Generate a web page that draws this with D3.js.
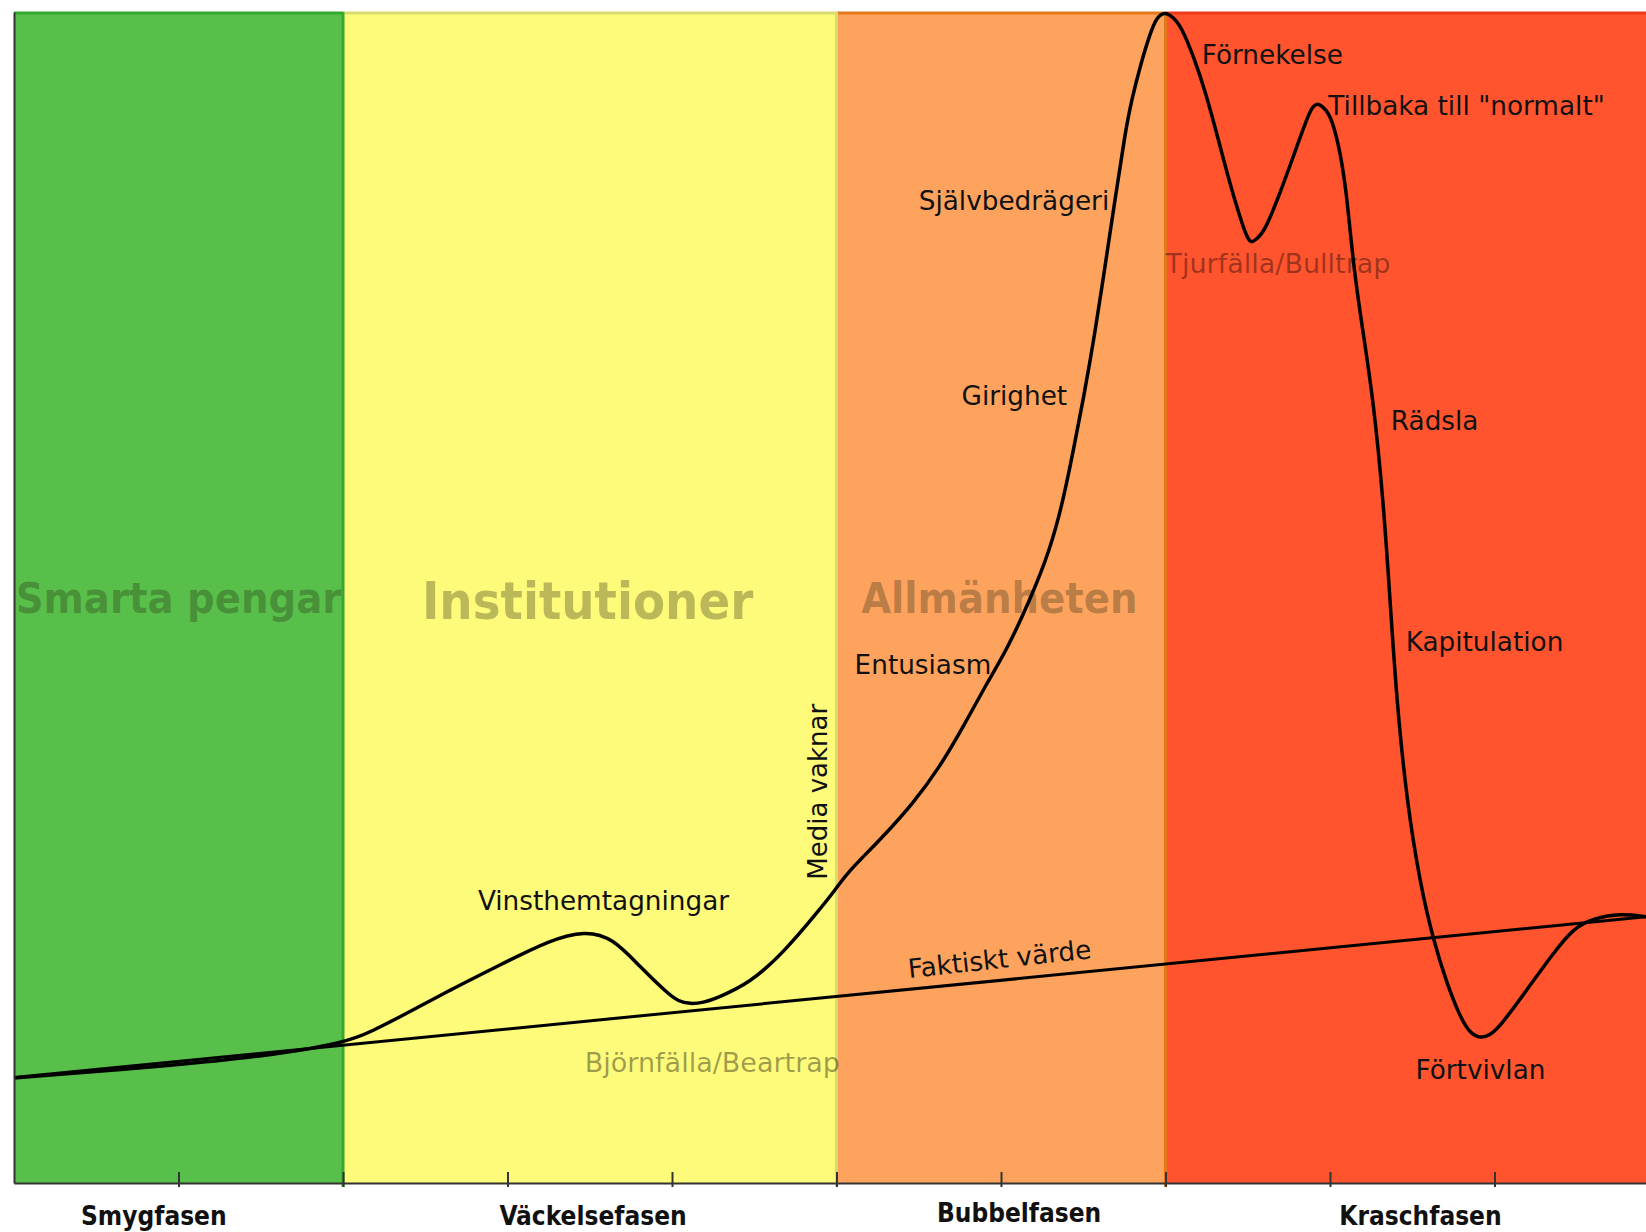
<!DOCTYPE html>
<html>
<head>
<meta charset="utf-8">
<script src="https://cdn.jsdelivr.net/npm/d3@7"></script>
<style>
  html, body { margin: 0; padding: 0; background: #fff; }
  #chart { width: 1646px; height: 1232px; }
</style>
</head>
<body>
<div id="chart"></div>
<script>
// phases along the bottom (x in time units 0..10)
const phaseNames = ["Smygfasen", "Väckelsefasen", "Bubbelfasen", "Kraschfasen"];
const phaseStart = [0, 2, 5, 7];
const phaseEnd = [2, 5, 7, 10];
const phaseLabelX = [0.85, 3.52, 6.11, 8.55];
const xTicks = [1, 2, 3, 4, 5, 6, 7, 8, 9];

// who is buying in each phase
const groupNames = ["Smarta pengar", "Institutioner", "Allmänheten"];
const groupX = [0.01, 2.48, 5.15];
const groupY = [48.7, 48.2, 48.7];

// price curve (x = time, y = price index 0..100)
const priceX = [0, 0.999, 1.5, 2.018, 2.18, 2.347, 2.65, 2.954, 3.258, 3.471, 3.641, 3.805, 3.97, 4.04, 4.109, 4.19,
  4.274, 4.474, 4.675, 4.881, 5.003, 5.062, 5.264, 5.467, 5.629, 5.771, 5.913, 6.035, 6.176, 6.298, 6.379, 6.44, 6.5,
  6.571, 6.632, 6.693, 6.754, 6.794, 6.845, 6.906, 6.948, 6.996, 7.046, 7.096, 7.171, 7.246, 7.322, 7.396, 7.471,
  7.497, 7.522, 7.55, 7.597, 7.697, 7.798, 7.872, 7.898, 7.923, 7.95, 7.998, 8.048, 8.098, 8.142, 8.202, 8.263,
  8.324, 8.365, 8.405, 8.466, 8.547, 8.628, 8.71, 8.79, 8.85, 8.912, 8.97, 9.033, 9.196, 9.357, 9.479, 9.601,
  9.763, 9.921];
const priceY = [8.97, 10.08, 10.8, 11.96, 13.0, 14.18, 16.48, 18.62, 20.75, 21.55, 20.92, 18.47, 16.23, 15.5, 15.29,
  15.4, 15.8, 17.08, 19.64, 23.06, 25.22, 26.45, 29.29, 32.43, 35.55, 38.97, 42.67, 45.52, 49.79, 54.06, 58.33, 62.6,
  66.87, 72.56, 78.25, 83.95, 89.64, 92.49, 95.33, 98.18, 99.57, 100.03, 99.57, 98.75, 96.19, 93.06, 89.07, 85.08,
  81.67, 80.75, 80.25, 80.6, 81.1, 84.52, 88.5, 91.35, 91.95, 92.2, 92.0, 91.35, 89.07, 85.08, 78.25, 72.56, 66.87,
  58.33, 49.79, 41.25, 32.71, 25.59, 20.75, 17.05, 14.2, 12.8, 12.36, 12.6, 13.35, 16.48, 19.62, 21.75, 22.6,
  23.03, 22.74];

// fundamental value line
const valueX = [0, 10];
const valueY = [9.0, 22.85];

// sentiment notes along the curve
const noteText = ["Förnekelse", "Tillbaka till \"normalt\"", "Självbedrägeri", "Girighet", "Entusiasm",
  "Rädsla", "Kapitulation", "Förtvivlan", "Vinsthemtagningar"];
const noteX = [7.22, 7.99, 5.5, 5.76, 5.11, 8.37, 8.46, 8.52, 2.82];
const noteY = [95.6, 91.2, 83.1, 66.4, 43.5, 64.3, 45.4, 8.9, 23.3];

// traps (faded text)
const trapText = ["Björnfälla/Beartrap", "Tjurfälla/Bulltrap"];
const trapX = [3.47, 7.0];
const trapY = [9.5, 77.7];

const W = 1646, H = 1232;
const margin = { top: 12, left: 14, bottom: 49 };
const colors = {
  fill: ["#58c04a", "#fefb7a", "#fea35d", "#ff542e"],
  edge: ["#36a82e", "#d9dc6c", "#e6781c", "#ee3a18"]
};
const noteFont = "'DejaVu Sans', sans-serif";
const boldFont = "'DejaVu Sans Condensed', 'DejaVu Sans', sans-serif";

const svg = d3.select("#chart").append("svg")
  .attr("width", W)
  .attr("height", H);

const x = d3.scaleLinear().domain([0, 10]).range([margin.left, 1659]);
const y = d3.scaleLinear().domain([0, 100]).range([H - margin.bottom, margin.top]);

const plot = svg.append("g");

// phase backgrounds
plot.selectAll("rect.phase")
  .data(phaseNames)
  .join("rect")
  .attr("class", "phase")
  .attr("x", (d, i) => x(phaseStart[i]))
  .attr("y", y(100))
  .attr("width", (d, i) => Math.min(x(phaseEnd[i]), W) - x(phaseStart[i]))
  .attr("height", y(0) - y(100))
  .attr("fill", (d, i) => colors.fill[i]);

// darker top edges
plot.selectAll("line.top")
  .data(phaseNames)
  .join("line")
  .attr("x1", (d, i) => x(phaseStart[i]))
  .attr("x2", (d, i) => Math.min(x(phaseEnd[i]), W))
  .attr("y1", y(100) + 1)
  .attr("y2", y(100) + 1)
  .attr("stroke", (d, i) => colors.edge[i])
  .attr("stroke-width", 3);

// borders between phases
plot.selectAll("line.sep")
  .data(phaseStart.slice(1))
  .join("line")
  .attr("x1", d => x(d))
  .attr("x2", d => x(d))
  .attr("y1", y(100))
  .attr("y2", y(0) + 4)
  .attr("stroke", (d, i) => colors.edge[i])
  .attr("stroke-width", 3);

// big faded group names
plot.selectAll("text.group")
  .data(groupNames)
  .join("text")
  .attr("x", (d, i) => x(groupX[i]))
  .attr("y", (d, i) => y(groupY[i]))
  .attr("font-family", boldFont)
  .attr("font-stretch", "condensed")
  .attr("font-weight", "bold")
  .attr("font-size", (d, i) => i === 1 ? 52 : 43)
  .attr("fill", "#2a2a14")
  .attr("fill-opacity", 0.32)
  .text(d => d);

// faded trap labels
plot.selectAll("text.trap")
  .data(trapText)
  .join("text")
  .attr("x", (d, i) => x(trapX[i]))
  .attr("y", (d, i) => y(trapY[i]))
  .attr("font-family", noteFont)
  .attr("font-size", 27)
  .attr("fill", "#000")
  .attr("fill-opacity", 0.38)
  .text(d => d);

// notes
plot.selectAll("text.note")
  .data(noteText)
  .join("text")
  .attr("x", (d, i) => x(noteX[i]))
  .attr("y", (d, i) => y(noteY[i]))
  .attr("font-family", noteFont)
  .attr("font-size", 26.3)
  .attr("fill", "#111")
  .text(d => d);

plot.append("text")
  .attr("transform", "translate(" + x(5.44) + "," + y(17.5) + ") rotate(-6.2)")
  .attr("font-family", noteFont)
  .attr("font-size", 26.3)
  .attr("fill", "#111")
  .text("Faktiskt värde");

plot.append("text")
  .attr("transform", "translate(" + x(4.94) + "," + y(25.9) + ") rotate(-90)")
  .attr("font-family", noteFont)
  .attr("font-size", 26)
  .attr("fill", "#111")
  .text("Media vaknar");

// value line
const valueLine = d3.line()
  .x(d => x(d[0]))
  .y(d => y(d[1]));

plot.append("path")
  .datum(d3.zip(valueX, valueY))
  .attr("d", valueLine)
  .attr("fill", "none")
  .attr("stroke", "#000")
  .attr("stroke-width", 3);

// price curve (b-spline smooths out reading noise)
const priceLine = d3.line()
  .x(d => x(d[0]))
  .y(d => y(d[1]))
  .curve(d3.curveBasis);

plot.append("path")
  .datum(d3.zip(priceX, priceY))
  .attr("d", priceLine)
  .attr("fill", "none")
  .attr("stroke", "#000")
  .attr("stroke-width", 3.5)
  .attr("stroke-linejoin", "round");

// axes
const xAxis = svg.append("g")
  .attr("transform", "translate(0," + y(0) + ")")
  .call(d3.axisBottom(x).tickValues(xTicks).tickSize(4).tickSizeOuter(0).tickFormat(""));
xAxis.select(".domain").attr("stroke", "#333").attr("stroke-width", 2);
xAxis.selectAll(".tick line").attr("y1", -11).attr("stroke", "#333").attr("stroke-width", 2);

const yAxis = svg.append("g")
  .attr("transform", "translate(" + x(0) + ",0)")
  .call(d3.axisLeft(y).tickValues([]).tickSizeOuter(0));
yAxis.select(".domain").attr("stroke", "#333").attr("stroke-width", 2);

// phase names under the axis
svg.selectAll("text.phaseName")
  .data(phaseNames)
  .join("text")
  .attr("x", (d, i) => x(phaseLabelX[i]))
  .attr("y", (d, i) => i === 2 ? 1222 : 1225)
  .attr("text-anchor", "middle")
  .attr("font-family", boldFont)
  .attr("font-stretch", "condensed")
  .attr("font-weight", "bold")
  .attr("font-size", 26)
  .attr("fill", "#111")
  .text(d => d);
</script>
</body>
</html>
